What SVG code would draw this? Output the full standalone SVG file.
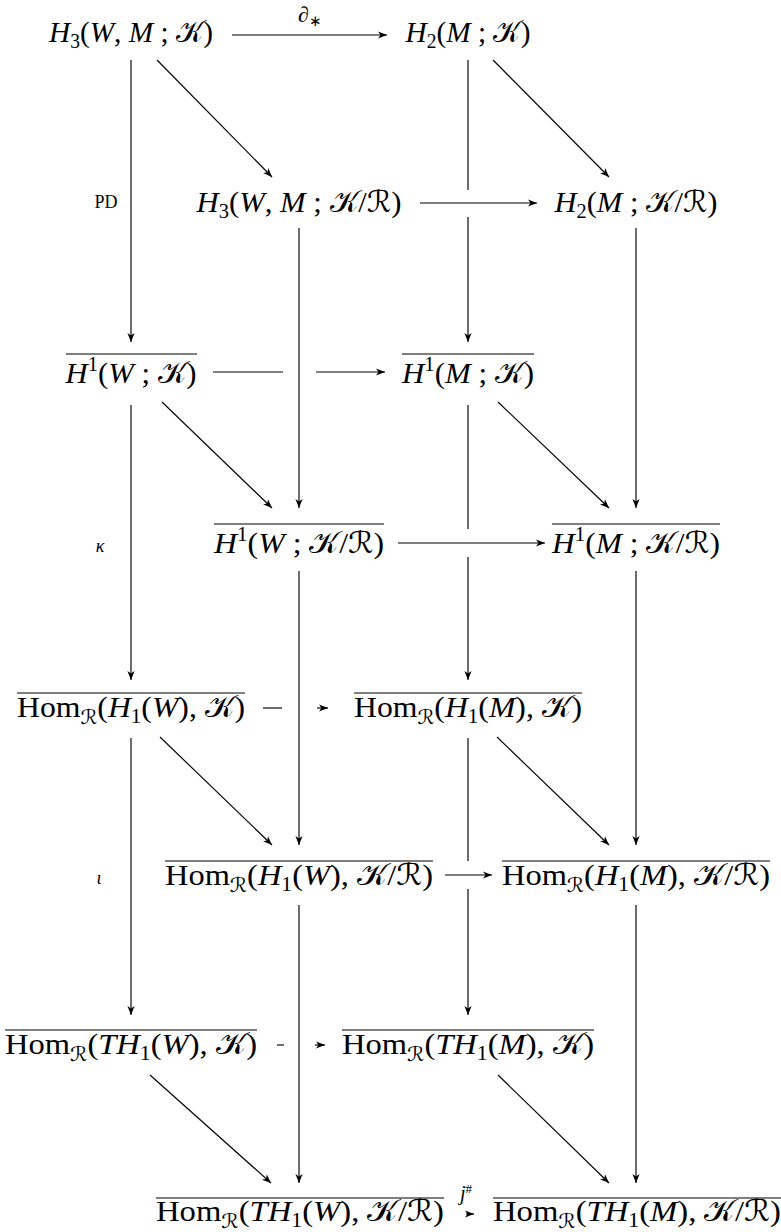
<svg xmlns="http://www.w3.org/2000/svg" width="781" height="1232" viewBox="0 0 781 1232">
<style>
text{font-family:"Liberation Serif","Times New Roman",serif;font-size:30px;fill:#000}
.i{font-style:italic}
.sb{font-size:20px}
.cal{font-family:"DejaVu Serif","DejaVu Sans","Noto Sans",serif;font-style:normal}
.lbl{font-size:18px}
.ol{stroke:#000;stroke-width:1.2}
.c line{stroke:#000;stroke-width:1.15;fill:none}
.a{marker-end:url(#ah)}
</style>
<defs>
<marker id="ah" markerUnits="userSpaceOnUse" markerWidth="12" markerHeight="10" viewBox="-10 -5 12 10" refX="0" refY="0" orient="auto">
<path d="M0,0 L-9,-3.6 L-6.5,0 L-9,3.6 z" fill="#000"/>
</marker>
</defs>

<g id="connectors" class="c">
<!-- horizontals -->
<line class="a" x1="232" y1="35" x2="387" y2="35"/>
<line class="a" x1="420" y1="203" x2="537" y2="203"/>
<line x1="213" y1="372" x2="283" y2="372"/>
<line class="a" x1="316" y1="372" x2="385" y2="372"/>
<line class="a" x1="398" y1="543" x2="545" y2="543"/>
<line x1="263" y1="708" x2="282" y2="708"/>
<line class="a" x1="317" y1="708" x2="328" y2="708"/>
<line class="a" x1="445" y1="875" x2="492" y2="875"/>
<line x1="277" y1="1045" x2="284" y2="1045"/>
<line class="a" x1="315" y1="1045" x2="325" y2="1045"/>
<line class="a" x1="466" y1="1214" x2="474" y2="1214"/>
<!-- column A -->
<line class="a" x1="131" y1="60" x2="131" y2="342"/>
<line class="a" x1="131" y1="405" x2="131" y2="680"/>
<line class="a" x1="131" y1="738" x2="131" y2="1015"/>
<!-- column B -->
<line class="a" x1="299" y1="228" x2="299" y2="508"/>
<line class="a" x1="299" y1="571" x2="299" y2="845"/>
<line class="a" x1="299" y1="905" x2="299" y2="1183"/>
<!-- column C -->
<line x1="468" y1="60" x2="468" y2="190"/>
<line class="a" x1="468" y1="217" x2="468" y2="342"/>
<line x1="468" y1="405" x2="468" y2="529"/>
<line class="a" x1="468" y1="557" x2="468" y2="680"/>
<line x1="468" y1="738" x2="468" y2="861"/>
<line class="a" x1="468" y1="889" x2="468" y2="1015"/>
<!-- column D -->
<line class="a" x1="636" y1="228" x2="636" y2="508"/>
<line class="a" x1="636" y1="571" x2="636" y2="845"/>
<line class="a" x1="636" y1="905" x2="636" y2="1183"/>
<!-- diagonals -->
<line class="a" x1="157" y1="60" x2="272" y2="177"/>
<line class="a" x1="493" y1="60" x2="609" y2="177"/>
<line class="a" x1="162" y1="402" x2="272" y2="508"/>
<line class="a" x1="498" y1="402" x2="609" y2="508"/>
<line class="a" x1="160" y1="737" x2="272" y2="845"/>
<line class="a" x1="497" y1="737" x2="609" y2="845"/>
<line class="a" x1="150" y1="1075" x2="271" y2="1183"/>
<line class="a" x1="498" y1="1075" x2="609" y2="1183"/>
</g>

<g id="labels">
<text x="310" y="22" text-anchor="middle" style="font-size:22px">∂<tspan class="sb" style="font-size:15px" dy="4">∗</tspan></text>
<text class="lbl" x="106" y="208" text-anchor="middle">PD</text>
<text class="lbl i" x="100" y="552" text-anchor="middle">κ</text>
<text class="lbl i" x="99" y="884" text-anchor="middle">ι</text>
<text x="466" y="1200" text-anchor="middle" style="font-size:20px"><tspan class="i">j</tspan><tspan style="font-size:13px" dy="-7">#</tspan></text>
</g>

<g id="n1"><text x="131" y="42" text-anchor="middle" textLength="164" lengthAdjust="spacingAndGlyphs"><tspan class="i">H</tspan><tspan class="sb" dy="6">3</tspan><tspan dy="-6">(</tspan><tspan class="i">W</tspan>, <tspan class="i">M</tspan> ; <tspan class="cal">𝒦</tspan>)</text></g>
<g id="n2"><text x="468" y="42" text-anchor="middle" textLength="125" lengthAdjust="spacingAndGlyphs"><tspan class="i">H</tspan><tspan class="sb" dy="6">2</tspan><tspan dy="-6">(</tspan><tspan class="i">M</tspan> ; <tspan class="cal">𝒦</tspan>)</text></g>
<g id="n3"><text x="299" y="212" text-anchor="middle" textLength="205" lengthAdjust="spacingAndGlyphs"><tspan class="i">H</tspan><tspan class="sb" dy="6">3</tspan><tspan dy="-6">(</tspan><tspan class="i">W</tspan>, <tspan class="i">M</tspan> ; <tspan class="cal">𝒦</tspan>/<tspan class="cal">ℛ</tspan>)</text></g>
<g id="n4"><text x="636" y="212" text-anchor="middle" textLength="163" lengthAdjust="spacingAndGlyphs"><tspan class="i">H</tspan><tspan class="sb" dy="6">2</tspan><tspan dy="-6">(</tspan><tspan class="i">M</tspan> ; <tspan class="cal">𝒦</tspan>/<tspan class="cal">ℛ</tspan>)</text></g>

<g id="n5"><line class="ol" x1="66" y1="354" x2="197" y2="354"/><text x="131" y="383" text-anchor="middle" textLength="131" lengthAdjust="spacingAndGlyphs"><tspan class="i">H</tspan><tspan class="sb" dy="-12">1</tspan><tspan dy="12">(</tspan><tspan class="i">W</tspan> ; <tspan class="cal">𝒦</tspan>)</text></g>
<g id="n6"><line class="ol" x1="402" y1="354" x2="534" y2="354"/><text x="468" y="383" text-anchor="middle" textLength="132" lengthAdjust="spacingAndGlyphs"><tspan class="i">H</tspan><tspan class="sb" dy="-12">1</tspan><tspan dy="12">(</tspan><tspan class="i">M</tspan> ; <tspan class="cal">𝒦</tspan>)</text></g>
<g id="n7"><line class="ol" x1="214" y1="524" x2="384" y2="524"/><text x="299" y="553" text-anchor="middle" textLength="170" lengthAdjust="spacingAndGlyphs"><tspan class="i">H</tspan><tspan class="sb" dy="-12">1</tspan><tspan dy="12">(</tspan><tspan class="i">W</tspan> ; <tspan class="cal">𝒦</tspan>/<tspan class="cal">ℛ</tspan>)</text></g>
<g id="n8"><line class="ol" x1="552" y1="524" x2="720" y2="524"/><text x="636" y="553" text-anchor="middle" textLength="168" lengthAdjust="spacingAndGlyphs"><tspan class="i">H</tspan><tspan class="sb" dy="-12">1</tspan><tspan dy="12">(</tspan><tspan class="i">M</tspan> ; <tspan class="cal">𝒦</tspan>/<tspan class="cal">ℛ</tspan>)</text></g>

<g id="n9"><line class="ol" x1="17" y1="693" x2="245" y2="693"/><text x="131" y="717" text-anchor="middle" textLength="228" lengthAdjust="spacingAndGlyphs">Hom<tspan class="cal sb" dy="7">ℛ</tspan><tspan dy="-7">(</tspan><tspan class="i">H</tspan><tspan class="sb" dy="6">1</tspan><tspan dy="-6">(</tspan><tspan class="i">W</tspan>), <tspan class="cal">𝒦</tspan>)</text></g>
<g id="n10"><line class="ol" x1="354" y1="693" x2="582" y2="693"/><text x="468" y="717" text-anchor="middle" textLength="228" lengthAdjust="spacingAndGlyphs">Hom<tspan class="cal sb" dy="7">ℛ</tspan><tspan dy="-7">(</tspan><tspan class="i">H</tspan><tspan class="sb" dy="6">1</tspan><tspan dy="-6">(</tspan><tspan class="i">M</tspan>), <tspan class="cal">𝒦</tspan>)</text></g>
<g id="n11"><line class="ol" x1="165" y1="861" x2="433" y2="861"/><text x="299" y="885" text-anchor="middle" textLength="268" lengthAdjust="spacingAndGlyphs">Hom<tspan class="cal sb" dy="7">ℛ</tspan><tspan dy="-7">(</tspan><tspan class="i">H</tspan><tspan class="sb" dy="6">1</tspan><tspan dy="-6">(</tspan><tspan class="i">W</tspan>), <tspan class="cal">𝒦</tspan>/<tspan class="cal">ℛ</tspan>)</text></g>
<g id="n12"><line class="ol" x1="502" y1="861" x2="770" y2="861"/><text x="636" y="885" text-anchor="middle" textLength="268" lengthAdjust="spacingAndGlyphs">Hom<tspan class="cal sb" dy="7">ℛ</tspan><tspan dy="-7">(</tspan><tspan class="i">H</tspan><tspan class="sb" dy="6">1</tspan><tspan dy="-6">(</tspan><tspan class="i">M</tspan>), <tspan class="cal">𝒦</tspan>/<tspan class="cal">ℛ</tspan>)</text></g>

<g id="n13"><line class="ol" x1="5" y1="1030" x2="257" y2="1030"/><text x="131" y="1054" text-anchor="middle" textLength="252" lengthAdjust="spacingAndGlyphs">Hom<tspan class="cal sb" dy="7">ℛ</tspan><tspan dy="-7">(</tspan><tspan class="i">TH</tspan><tspan class="sb" dy="6">1</tspan><tspan dy="-6">(</tspan><tspan class="i">W</tspan>), <tspan class="cal">𝒦</tspan>)</text></g>
<g id="n14"><line class="ol" x1="342" y1="1030" x2="594" y2="1030"/><text x="468" y="1054" text-anchor="middle" textLength="252" lengthAdjust="spacingAndGlyphs">Hom<tspan class="cal sb" dy="7">ℛ</tspan><tspan dy="-7">(</tspan><tspan class="i">TH</tspan><tspan class="sb" dy="6">1</tspan><tspan dy="-6">(</tspan><tspan class="i">M</tspan>), <tspan class="cal">𝒦</tspan>)</text></g>
<g id="n15"><line class="ol" x1="156" y1="1198" x2="444" y2="1198"/><text x="300" y="1221" text-anchor="middle" textLength="288" lengthAdjust="spacingAndGlyphs">Hom<tspan class="cal sb" dy="7">ℛ</tspan><tspan dy="-7">(</tspan><tspan class="i">TH</tspan><tspan class="sb" dy="6">1</tspan><tspan dy="-6">(</tspan><tspan class="i">W</tspan>), <tspan class="cal">𝒦</tspan>/<tspan class="cal">ℛ</tspan>)</text></g>
<g id="n16"><line class="ol" x1="493" y1="1198" x2="781" y2="1198"/><text x="637" y="1221" text-anchor="middle" textLength="288" lengthAdjust="spacingAndGlyphs">Hom<tspan class="cal sb" dy="7">ℛ</tspan><tspan dy="-7">(</tspan><tspan class="i">TH</tspan><tspan class="sb" dy="6">1</tspan><tspan dy="-6">(</tspan><tspan class="i">M</tspan>), <tspan class="cal">𝒦</tspan>/<tspan class="cal">ℛ</tspan>)</text></g>
</svg>
